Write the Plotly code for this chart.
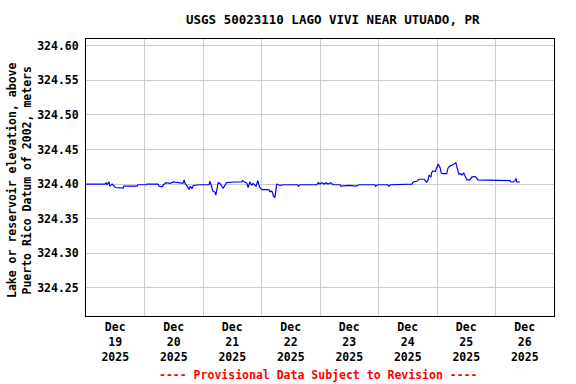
import plotly.graph_objects as go
from datetime import datetime, timedelta

times = [
    "2025-12-19 00:00", "2025-12-19 07:45", "2025-12-19 08:15", "2025-12-19 08:30", "2025-12-19 09:30",
    "2025-12-19 09:45", "2025-12-19 10:45", "2025-12-19 12:00", "2025-12-19 15:15", "2025-12-19 15:30",
    "2025-12-19 21:00", "2025-12-19 21:15", "2025-12-20 00:30", "2025-12-20 01:00", "2025-12-20 05:30",
    "2025-12-20 06:00", "2025-12-20 07:15", "2025-12-20 07:30", "2025-12-20 08:45", "2025-12-20 10:30",
    "2025-12-20 12:00", "2025-12-20 14:30", "2025-12-20 15:45", "2025-12-20 16:15", "2025-12-20 16:30",
    "2025-12-20 17:30", "2025-12-20 18:15", "2025-12-20 18:45", "2025-12-20 19:30", "2025-12-20 20:00",
    "2025-12-20 22:45", "2025-12-21 02:30", "2025-12-21 02:45", "2025-12-21 03:15", "2025-12-21 04:00",
    "2025-12-21 05:00", "2025-12-21 05:15", "2025-12-21 05:45", "2025-12-21 06:15", "2025-12-21 07:00",
    "2025-12-21 08:15", "2025-12-21 09:00", "2025-12-21 09:45", "2025-12-21 13:00", "2025-12-21 16:00",
    "2025-12-21 16:15", "2025-12-21 17:15", "2025-12-21 18:00", "2025-12-21 18:30", "2025-12-21 19:15",
    "2025-12-21 20:00", "2025-12-21 20:30", "2025-12-21 21:45", "2025-12-21 22:30", "2025-12-21 23:15",
    "2025-12-22 00:15", "2025-12-22 03:00", "2025-12-22 03:30", "2025-12-22 04:15", "2025-12-22 05:00",
    "2025-12-22 05:30", "2025-12-22 06:00", "2025-12-22 06:15", "2025-12-22 07:30", "2025-12-22 09:30",
    "2025-12-22 14:45", "2025-12-22 15:15", "2025-12-22 15:45", "2025-12-22 22:45", "2025-12-22 23:15",
    "2025-12-23 00:00", "2025-12-23 00:45", "2025-12-23 01:45", "2025-12-23 02:30", "2025-12-23 03:15",
    "2025-12-23 04:30", "2025-12-23 05:15", "2025-12-23 08:15", "2025-12-23 08:30", "2025-12-23 12:15",
    "2025-12-23 14:45", "2025-12-23 16:15", "2025-12-23 22:30", "2025-12-23 22:45", "2025-12-23 23:45",
    "2025-12-24 03:45", "2025-12-24 04:15", "2025-12-24 05:00", "2025-12-24 13:45", "2025-12-24 14:15",
    "2025-12-24 15:45", "2025-12-24 16:30", "2025-12-24 18:45", "2025-12-24 19:45", "2025-12-24 20:15",
    "2025-12-24 20:45", "2025-12-24 21:30", "2025-12-24 21:45", "2025-12-24 22:15", "2025-12-24 23:15",
    "2025-12-25 00:00", "2025-12-25 00:30", "2025-12-25 01:15", "2025-12-25 01:45", "2025-12-25 02:30",
    "2025-12-25 04:00", "2025-12-25 04:30", "2025-12-25 05:15", "2025-12-25 06:30", "2025-12-25 07:15",
    "2025-12-25 07:45", "2025-12-25 08:00", "2025-12-25 09:00", "2025-12-25 09:45", "2025-12-25 10:15",
    "2025-12-25 11:00", "2025-12-25 11:30", "2025-12-25 12:15", "2025-12-25 13:30", "2025-12-25 14:15",
    "2025-12-25 15:30", "2025-12-25 16:15", "2025-12-25 16:45", "2025-12-25 18:00", "2025-12-25 18:45",
    "2025-12-26 06:00", "2025-12-26 06:15", "2025-12-26 07:15", "2025-12-26 08:00", "2025-12-26 08:30",
    "2025-12-26 08:45", "2025-12-26 10:00",
]

elevation = [
    324.400, 324.400, 324.402, 324.399, 324.403,
    324.397, 324.400, 324.395, 324.394, 324.397,
    324.397, 324.399, 324.399, 324.400, 324.400,
    324.397, 324.396, 324.398, 324.402, 324.401,
    324.403, 324.401, 324.401, 324.406, 324.402,
    324.397, 324.392, 324.397, 324.393, 324.398,
    324.399, 324.399, 324.404, 324.400, 324.390,
    324.388, 324.384, 324.393, 324.402, 324.401,
    324.394, 324.398, 324.402, 324.403, 324.403,
    324.405, 324.402, 324.401, 324.395, 324.403,
    324.398, 324.401, 324.397, 324.405, 324.395,
    324.392, 324.392, 324.389, 324.390, 324.382,
    324.381, 324.398, 324.400, 324.398, 324.399,
    324.399, 324.397, 324.399, 324.399, 324.402,
    324.400, 324.402, 324.400, 324.402, 324.400,
    324.402, 324.399, 324.399, 324.397, 324.398,
    324.397, 324.399, 324.399, 324.397, 324.399,
    324.399, 324.397, 324.399, 324.400, 324.403,
    324.404, 324.407, 324.407, 324.403, 324.405,
    324.413, 324.410, 324.416, 324.419, 324.418,
    324.426, 324.429, 324.424, 324.416, 324.415,
    324.415, 324.423, 324.426, 324.428, 324.430,
    324.431, 324.427, 324.414, 324.415, 324.413,
    324.416, 324.412, 324.406, 324.406, 324.410,
    324.411, 324.409, 324.406, 324.406, 324.405,
    324.405, 324.403, 324.403, 324.405, 324.408,
    324.403, 324.403,
]

day_labels = ["Dec<br>19<br>2025", "Dec<br>20<br>2025", "Dec<br>21<br>2025", "Dec<br>22<br>2025",
              "Dec<br>23<br>2025", "Dec<br>24<br>2025", "Dec<br>25<br>2025", "Dec<br>26<br>2025"]
y_ticks = [324.25, 324.30, 324.35, 324.40, 324.45, 324.50, 324.55, 324.60]

start = datetime(2025, 12, 19)
label_pos = [start + timedelta(days=i, hours=12) for i in range(len(day_labels))]

FONT = "DejaVu Sans Mono"

fig = go.Figure()
fig.add_trace(go.Scatter(x=times, y=elevation, mode="lines",
                         line=dict(color="#0000ff", width=1.2), showlegend=False,
                         hoverinfo="skip"))

fig.update_layout(
    width=576, height=384,
    margin=dict(l=86, r=22, t=39, b=68),
    paper_bgcolor="white", plot_bgcolor="white",
    font=dict(family=FONT, size=11.5, color="black"),
    showlegend=False,
)

fig.update_xaxes(
    range=[start, start + timedelta(days=8)],
    tickmode="array", tickvals=label_pos, ticktext=day_labels,
    showgrid=False, ticks="", zeroline=False,
    tickfont=dict(family=FONT, size=11.5, color="black", weight="bold"),
    showline=True, linecolor="black", linewidth=1, mirror=True,
    minor=dict(tick0="2025-12-19", dtick=86400000, showgrid=True,
               gridcolor="#cccccc", gridwidth=1, ticks=""),
)
fig.update_yaxes(
    range=[324.209, 324.610],
    tickmode="array", tickvals=y_ticks, ticktext=[f"{v:.2f}" for v in y_ticks],
    showgrid=True, gridcolor="#cccccc", gridwidth=1, ticks="", zeroline=False,
    tickfont=dict(family=FONT, size=11.5, color="black", weight="bold"),
    showline=True, linecolor="black", linewidth=1, mirror=True,
    ticklabelstandoff=4,
)

fig.add_annotation(text="USGS 50023110 LAGO VIVI NEAR UTUADO, PR",
                   xref="paper", yref="paper", x=(333 - 86) / 468, y=1 + (39 - 20) / 277,
                   xanchor="center", yanchor="middle", showarrow=False,
                   font=dict(family=FONT, size=12.5, color="black", weight="bold"))
fig.add_annotation(text="Lake or reservoir elevation, above<br>Puerto Rico Datum of 2002, meters",
                   xref="paper", yref="paper", x=-(86 - 19) / 468, y=(316 - 181) / 277,
                   xanchor="center", yanchor="middle", textangle=-90, showarrow=False,
                   font=dict(family=FONT, size=11.5, color="black", weight="bold"))
fig.add_annotation(text="---- Provisional Data Subject to Revision ----",
                   xref="paper", yref="paper", x=(318 - 86) / 468, y=-(375 - 316) / 277,
                   xanchor="center", yanchor="middle", showarrow=False,
                   font=dict(family=FONT, size=11.5, color="#ff0000", weight="bold"))

fig.write_html("out.html", config={"displayModeBar": False})

with open("out.html", "r", encoding="utf-8") as f:
    html = f.read()
html = html.replace("<head>", "<head><style>html,body{margin:0;padding:0;overflow:hidden;}</style>", 1)
with open("out.html", "w", encoding="utf-8") as f:
    f.write(html)
